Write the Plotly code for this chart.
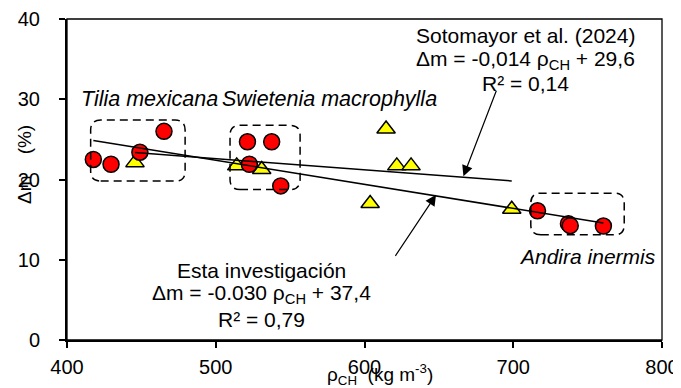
import plotly.graph_objects as go

# ---- data ----
esta_x = [417.7, 429.6, 449.0, 465.2, 521.3, 537.6, 522.6, 543.7, 716.3, 737.1, 738.3, 760.6]
esta_y = [22.5, 21.9, 23.4, 26.0, 24.7, 24.7, 21.9, 19.2, 16.1, 14.5, 14.25, 14.2]
soto_x = [445.7, 514.1, 530.9, 614.5, 621.7, 631.3, 603.8, 699.0]
soto_y = [22.1, 21.7, 21.25, 26.3, 21.7, 21.7, 17.0, 16.3]
esta_coef = (-0.030, 37.4)
soto_coef = (-0.014, 29.6)
x_ticks = [400, 500, 600, 700, 800]
y_ticks = [0, 10, 20, 30, 40]

FONT = "Liberation Sans, Arial, sans-serif"
OFF = 8  # default page body margin
L, R, T, B, W, H = 67, 19, 19, 48, 681, 388
PW, PH = W - L - R, H - T - B


def px(xp):
    return (xp - L) / PW


def py(yp):
    return (H - B - yp) / PH


fig = go.Figure()
fig.add_trace(go.Scatter(x=soto_x, y=soto_y, mode="markers",
                         marker=dict(symbol="triangle-up", size=16, color="#ffff00",
                                     line=dict(color="black", width=1.5)),
                         showlegend=False))
fig.add_trace(go.Scatter(x=esta_x, y=esta_y, mode="markers",
                         marker=dict(symbol="circle", size=16, color="#ff0000",
                                     line=dict(color="black", width=1.5)),
                         showlegend=False))
for xs, (m, b) in ((esta_x, esta_coef), (soto_x, soto_coef)):
    x0, x1 = min(xs), max(xs)
    fig.add_trace(go.Scatter(x=[x0, x1], y=[m * x0 + b, m * x1 + b], mode="lines",
                             line=dict(color="black", width=1.5), showlegend=False))


# rounded dashed boxes (data coords), radius ~10 px
def rbox(x0, y0, x1, y1, r=10):
    rx, ry = r / (PW / 400), r / (PH / 40)
    return (f"M {x0+rx},{y0} L {x1-rx},{y0} Q {x1},{y0} {x1},{y0+ry} "
            f"L {x1},{y1-ry} Q {x1},{y1} {x1-rx},{y1} L {x0+rx},{y1} "
            f"Q {x0},{y1} {x0},{y1-ry} L {x0},{y0+ry} Q {x0},{y0} {x0+rx},{y0} Z")


shapes = []
for bx in [(415.9, 19.8, 479.4, 27.4), (509.6, 18.75, 556.7, 26.75), (711.8, 13.1, 774.6, 18.3)]:
    shapes.append(dict(type="path", path=rbox(*bx), xref="x", yref="y",
                       line=dict(color="black", width=1.5, dash="8px,5px")))
shapes.append(dict(type="rect", xref="paper", yref="paper", x0=0, x1=1, y0=0, y1=1,
                   line=dict(color="black", width=1.3)))

ann = []


def txt(t, xp, yp, size=21, italic=False):
    ann.append(dict(text=t, x=px(xp), y=py(yp), xref="paper", yref="paper",
                    showarrow=False, xanchor="center", yanchor="middle",
                    font=dict(family=FONT, size=size, color="black",
                              style="italic" if italic else "normal")))


txt("Sotomayor et al. (2024)", 525, 35.7)
txt("Δm = -0,014 ρ<sub>CH</sub> + 29,6", 525, 59.7)
txt("R² = 0,14", 525, 83.7)
txt("Esta investigación", 261, 270)
txt("Δm = -0.030 ρ<sub>CH</sub> + 37,4", 261, 293.7)
txt("R² = 0,79", 261, 319)
txt("Tilia mexicana", 149.5, 99, size=21.5, italic=True)
txt("Swietenia macrophylla", 329, 99, size=21.5, italic=True)
txt("Andira inermis", 587.5, 256, italic=True)

# axis titles
txt("ρ<sub>CH</sub>  (kg m<sup>-3</sup>)", 380, 375, size=19)
ann.append(dict(text="Δm\u00a0\u00a0\u00a0\u00a0(%)", x=px(24), y=py(164),
                xref="paper", yref="paper",
                showarrow=False, textangle=-90, xanchor="center", yanchor="middle",
                font=dict(family=FONT, size=19, color="black")))

# arrows
for head, tail in (((666.5, 20.4), (689.0, 31.25)), ((648.1, 18.1), (620.1, 10.3))):
    ann.append(dict(text="", x=head[0], y=head[1], ax=tail[0], ay=tail[1],
                    xref="x", yref="y", axref="x", ayref="y", showarrow=True,
                    arrowhead=2, arrowsize=1.8, arrowwidth=1.2, arrowcolor="black"))

fig.update_layout(
    width=W - OFF, height=H - OFF,
    margin=dict(l=L - OFF, r=R, t=T - OFF, b=B, autoexpand=False),
    paper_bgcolor="white", plot_bgcolor="white",
    shapes=shapes, annotations=ann,
    font=dict(family=FONT, size=20, color="black"),
    xaxis=dict(range=[400, 800], tickvals=x_ticks, ticktext=[str(v) for v in x_ticks],
               showgrid=False, zeroline=False, showline=True, linecolor="black",
               linewidth=2, ticks="outside", ticklen=6, tickwidth=1.5, tickcolor="black",
               ticklabelstandoff=2, tickfont=dict(size=20), automargin=False),
    yaxis=dict(range=[0, 40], tickvals=y_ticks, ticktext=[str(v) for v in y_ticks],
               showgrid=False, zeroline=False, showline=True, linecolor="black",
               linewidth=2, ticks="outside", ticklen=6, tickwidth=1.5, tickcolor="black",
               ticklabelstandoff=15, tickfont=dict(size=20), automargin=False),
)
fig.write_html("out.html")
